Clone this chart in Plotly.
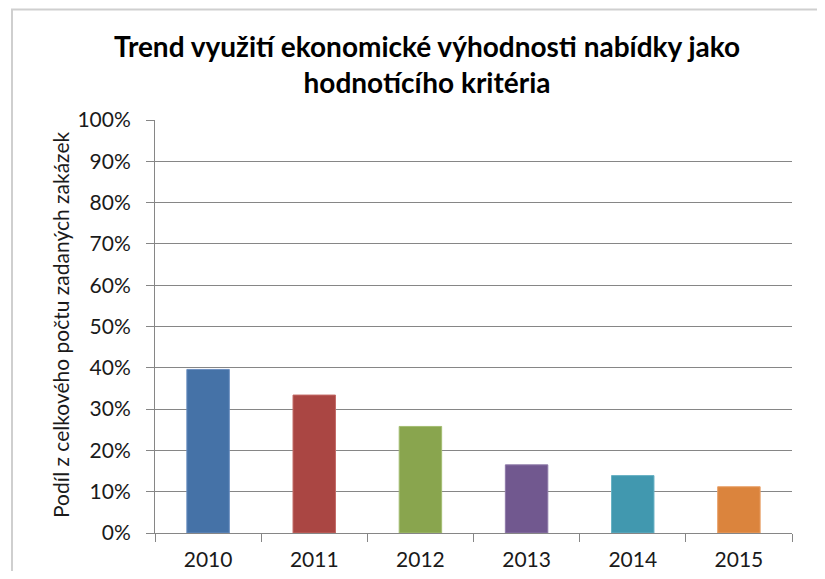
import plotly.graph_objects as go

years = ["2010", "2011", "2012", "2013", "2014", "2015"]
shares = [0.396, 0.334, 0.258, 0.165, 0.139, 0.112]
colors = ["#4572A7", "#AA4643", "#89A54E", "#71588F", "#4198AF", "#DB843D"]
edge_colors = ["#6A8EC0", "#C46A67", "#A3BD71", "#8E79A8", "#68B1C4", "#E9A068"]

title_text = "Trend využití ekonomické výhodnosti nabídky jako<br>hodnotícího kritéria"
y_title = "Podíl z celkového počtu zadaných zakázek"

OFF = 8  # page body margin offset
W, H = 825 - OFF, 579 - 2 * OFF
L, T = 155 - OFF, 120 - OFF
pw, ph = 637, 413
R = W - L - pw
B = H - T - ph

fig = go.Figure(go.Bar(
    x=years, y=shares,
    marker=dict(color=colors, line=dict(color=edge_colors, width=1)),
    width=0.4,
))

def px_x(x):
    return (x - OFF - L) / pw

def px_y(y):
    return (T + ph - (y - OFF)) / ph

fig.update_layout(
    width=W, height=H,
    margin=dict(l=L, r=R, t=T, b=B, autoexpand=False),
    paper_bgcolor="white", plot_bgcolor="white",
    font=dict(family="Lato", color="#1a1a1a"),
    showlegend=False,
    title=dict(text=title_text, x=(427 - OFF) / W, y=1 - (57 - OFF) / H,
               xref="container", yref="container",
               xanchor="center", yanchor="middle",
               font=dict(family="Lato", size=28, color="#000000", weight="bold")),
    xaxis=dict(type="category", showline=True, linecolor="#868686", linewidth=1,
               ticks="outside", tickson="boundaries", ticklen=8, tickcolor="#868686",
               tickfont=dict(size=21, color="#1a1a1a"), showgrid=False,
               ticklabelstandoff=8, automargin=False),
    yaxis=dict(range=[0, 1], dtick=0.1, tickformat=".0%", showline=True,
               linecolor="#868686", linewidth=1, ticks="outside", ticklen=8,
               tickcolor="#868686", showgrid=True, gridcolor="#868686", gridwidth=1,
               tickfont=dict(size=21, color="#1a1a1a"), ticklabelstandoff=11,
               zeroline=False, automargin=False),
    annotations=[dict(text=y_title, textangle=-90, x=px_x(60), y=px_y(325),
                      xref="paper", yref="paper", showarrow=False,
                      xanchor="center", yanchor="middle",
                      font=dict(size=21, color="#1a1a1a", family="Lato"))],
    shapes=[dict(type="rect", xref="paper", yref="paper",
                 x0=px_x(12), x1=px_x(860), y0=px_y(620), y1=px_y(9.5),
                 line=dict(color="#cfcfcf", width=2), fillcolor="rgba(0,0,0,0)", layer="below")],
)

fig.write_html("out.html")
